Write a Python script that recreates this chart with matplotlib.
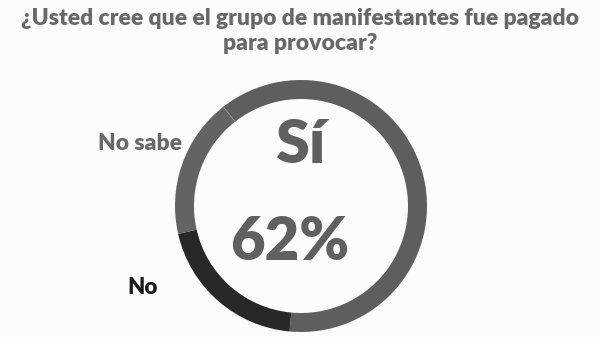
import matplotlib
matplotlib.use("Agg")
import matplotlib.pyplot as plt
import numpy as np

# Survey answers (percent)
categories = ["Sí", "No", "No sabe"]
values = [62, 20, 18]
colors = ["#5e5e5e", "#282828", "#636363"]

title = "¿Usted cree que el grupo de manifestantes fue pagado\npara provocar?"
center_label = "Sí"
center_value = "62%"

plt.rcParams["font.family"] = ["Lato", "DejaVu Sans"]

W, H = 600, 337
fig = plt.figure(figsize=(W / 100, H / 100), dpi=100, facecolor="#fcfcfc")
ax = fig.add_axes([0, 0, 1, 1])

cx, cy, R, ring = 301, 131, 126, 19
wedges, _ = ax.pie(values, colors=colors, startangle=128, counterclock=False,
                   radius=R, center=(cx, cy), frame=True,
                   wedgeprops=dict(width=ring, linewidth=0))
ax.set_xlim(0, W)
ax.set_ylim(0, H)
ax.set_aspect("equal")
ax.axis("off")

# faint seam between "No sabe" and "Sí"
th = np.deg2rad(wedges[0].theta2)
ax.plot([cx + (R - ring) * np.cos(th), cx + R * np.cos(th)],
        [cy + (R - ring) * np.sin(th), cy + R * np.sin(th)],
        color="#8c8c8c", lw=0.7)

fig.text(0.5, 1 - 31 / H, title, ha="center", va="center", fontsize=16.5,
         fontweight="heavy", color="#686868", linespacing=1.2)

ax.text(300, 337 - 145, center_label, ha="center", va="center", fontsize=44,
        fontweight="heavy", color="#606060")
ax.text(290, 337 - 242, center_value, ha="center", va="center", fontsize=43,
        fontweight="heavy", color="#606060")

ax.text(182, 337 - 143, categories[2], ha="right", va="center", fontsize=16.5,
        fontweight="heavy", color="#686868")
ax.text(143, 337 - 288, categories[1], ha="center", va="center", fontsize=16,
        fontweight="heavy", color="#1a1a1a")

fig.savefig("out.png", dpi=100, facecolor=fig.get_facecolor())
